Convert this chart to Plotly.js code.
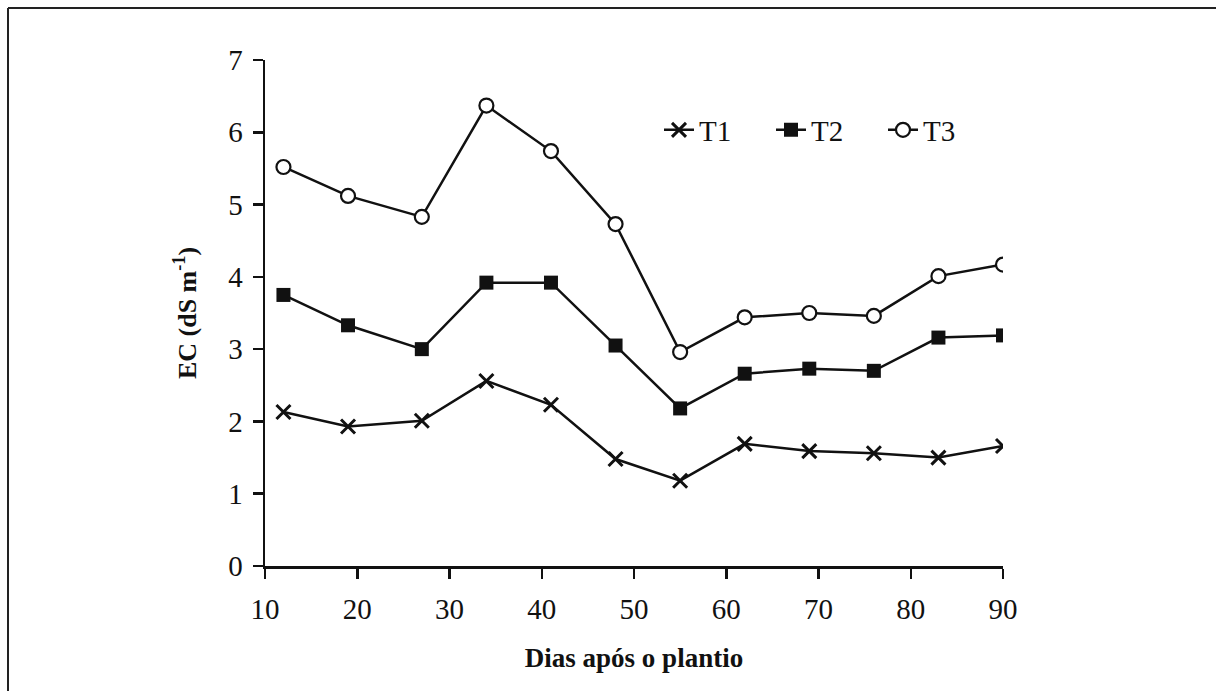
<!DOCTYPE html>
<html>
<head>
<meta charset="utf-8">
<script src="https://cdn.plot.ly/plotly-3.0.1.min.js"></script>
<style>
html,body{margin:0;padding:0;background:#fff;}
#chart{width:1216px;height:691px;}
</style>
</head>
<body>
<div id="chart"></div>
<script>
const days = [12, 19, 27, 34, 41, 48, 55, 62, 69, 76, 83, 90];
const t1 = [2.13, 1.93, 2.01, 2.56, 2.23, 1.48, 1.18, 1.69, 1.59, 1.56, 1.50, 1.66];
const t2 = [3.75, 3.33, 3.00, 3.92, 3.92, 3.05, 2.18, 2.66, 2.73, 2.70, 3.16, 3.19];
const t3 = [5.52, 5.12, 4.83, 6.37, 5.74, 4.73, 2.96, 3.44, 3.50, 3.46, 4.01, 4.17];
const seriesNames = ["T1", "T2", "T3"];
const xTicks = [10, 20, 30, 40, 50, 60, 70, 80, 90];
const yTicks = [0, 1, 2, 3, 4, 5, 6, 7];

const font = {family: "Liberation Serif, Times New Roman, serif", color: "#111"};
const line = {color: "#111", width: 2.5};

const traces = [
  {x: days, y: t1, name: seriesNames[0], mode: "lines+markers", line: line,
   marker: {symbol: "x-thin-open", size: 14, color: "#111", line: {width: 3, color: "#111"}}},
  {x: days, y: t2, name: seriesNames[1], mode: "lines+markers", line: line,
   marker: {symbol: "square", size: 14, color: "#111"}},
  {x: days, y: t3, name: seriesNames[2], mode: "lines+markers", line: line,
   marker: {symbol: "circle", size: 14, color: "#fff", line: {width: 2.2, color: "#111"}}}
];

const L = 265, R = 1003, T = 60, B = 566;
const px = p => (p - L) / (R - L);
const py = p => (B - p) / (B - T);

const layout = {
  width: 1216, height: 691,
  margin: {l: L, r: 1216 - R, t: T, b: 691 - B, pad: 0},
  paper_bgcolor: "#fff", plot_bgcolor: "#fff",
  font: Object.assign({size: 29}, font),
  showlegend: true,
  legend: {orientation: "h", x: px(659), y: py(130), xanchor: "left", yanchor: "middle",
           font: Object.assign({size: 29}, font), bgcolor: "rgba(0,0,0,0)",
           entrywidth: 67, entrywidthmode: "pixels", traceorder: "normal"},
  xaxis: {
    range: [10, 90], tickvals: xTicks, ticktext: xTicks.map(String),
    showgrid: false, zeroline: false, showline: true, linecolor: "#111", linewidth: 2.5,
    ticks: "outside", ticklen: 10, tickwidth: 2.5, tickcolor: "#111",
    ticklabelstandoff: 6,
    tickfont: Object.assign({size: 29}, font),
    title: {text: "<b>Dias após o plantio</b>", font: Object.assign({size: 27}, font), standoff: 24}
  },
  yaxis: {
    range: [0, 7], tickvals: yTicks, ticktext: yTicks.map(String),
    showgrid: false, zeroline: false, showline: true, linecolor: "#111", linewidth: 2.5,
    ticks: "outside", ticklen: 10, tickwidth: 2.5, tickcolor: "#111",
    ticklabelstandoff: 4,
    tickfont: Object.assign({size: 29}, font),
    title: {text: "<b>EC (dS m<sup>-1</sup>)</b>", font: Object.assign({size: 26}, font), standoff: 24}
  },
  shapes: [
    {type: "line", xref: "paper", yref: "paper", x0: px(8), x1: px(1216), y0: py(8), y1: py(8),
     line: {color: "#222", width: 2}},
    {type: "line", xref: "paper", yref: "paper", x0: px(8), x1: px(8), y0: py(8), y1: py(691),
     line: {color: "#222", width: 2}}
  ]
};

Plotly.newPlot("chart", traces, layout, {displayModeBar: false, staticPlot: true});
</script>
</body>
</html>
